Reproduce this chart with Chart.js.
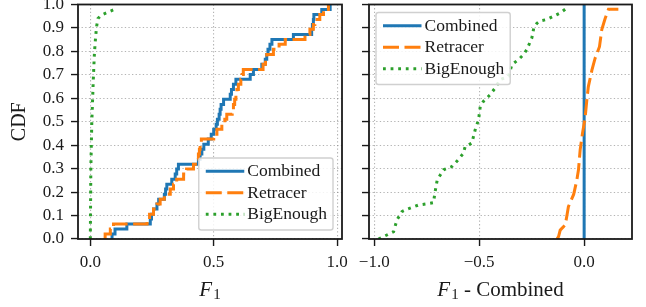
<!DOCTYPE html>
<html>
<head>
<meta charset="utf-8">
<script src="https://cdn.jsdelivr.net/npm/chart.js@4.4.1/dist/chart.umd.min.js"></script>
<style>
html,body{margin:0;padding:0;background:#fff;}
#wrap{position:relative;width:646px;height:307px;overflow:hidden;}
#c1{position:absolute;left:0;top:0;}
#c2{position:absolute;left:350px;top:0;}
</style>
</head>
<body>
<div id="wrap">
<canvas id="c1" width="350" height="307"></canvas>
<canvas id="c2" width="296" height="307"></canvas>
</div>
<script>
// ---------------- DATA ----------------
const seriesLabels = ['Combined', 'Retracer', 'BigEnough'];

// Left panel: F1 values (x) and CDF levels (y)
const combinedF1  = [0.088,0.088,0.100,0.148,0.243,0.248,0.256,0.270,0.277,0.300,0.305,0.310,0.330,0.344,0.350,0.357,0.438,0.445,0.452,0.460,0.478,0.490,0.500,0.510,0.515,0.522,0.526,0.530,0.540,0.567,0.572,0.580,0.590,0.648,0.661,0.695,0.709,0.715,0.720,0.728,0.736,0.823,0.897,0.900,0.904,0.906,0.938,0.972];
const combinedCdf = [0.000,0.021,0.043,0.064,0.085,0.106,0.128,0.149,0.170,0.191,0.213,0.234,0.255,0.277,0.298,0.319,0.340,0.362,0.383,0.404,0.426,0.447,0.468,0.489,0.511,0.532,0.553,0.574,0.596,0.617,0.638,0.660,0.681,0.702,0.723,0.745,0.766,0.787,0.809,0.830,0.851,0.872,0.894,0.915,0.936,0.957,0.979,1.000];

const retracerF1  = [0.060,0.060,0.081,0.094,0.230,0.240,0.256,0.270,0.283,0.300,0.324,0.337,0.350,0.378,0.390,0.418,0.432,0.438,0.442,0.445,0.450,0.500,0.513,0.533,0.545,0.553,0.575,0.580,0.585,0.590,0.594,0.600,0.610,0.615,0.620,0.700,0.710,0.715,0.742,0.765,0.790,0.870,0.890,0.904,0.910,0.930,0.945,0.965];
const retracerCdf = [0.000,0.021,0.043,0.064,0.085,0.106,0.128,0.149,0.170,0.191,0.213,0.234,0.255,0.277,0.298,0.319,0.340,0.362,0.383,0.404,0.426,0.447,0.468,0.489,0.511,0.532,0.553,0.574,0.596,0.617,0.638,0.660,0.681,0.702,0.723,0.745,0.766,0.787,0.809,0.830,0.851,0.872,0.894,0.915,0.936,0.957,0.979,1.000];

const bigEnoughF1  = [0.000,0.001,0.002,0.004,0.006,0.009,0.012,0.016,0.019,0.023,0.026,0.031,0.040,0.051,0.077,0.100];
const bigEnoughCdf = [0.000,0.150,0.300,0.400,0.500,0.590,0.680,0.780,0.830,0.880,0.910,0.940,0.950,0.958,0.970,0.980];

// Right panel: F1 - Combined (x) and CDF levels (y)
const diffCombined    = [0.0, 0.0];
const diffCombinedCdf = [0.0, 1.0];

const diffRetracer    = [-0.130,-0.122,-0.114,-0.090,-0.082,-0.075,-0.050,-0.035,-0.027,-0.019,-0.008,0.005,0.013,0.020,0.037,0.052,0.073,0.084,0.100,0.116,0.163];
const diffRetracerCdf = [0.000,0.010,0.038,0.060,0.100,0.138,0.190,0.250,0.295,0.380,0.450,0.520,0.594,0.650,0.720,0.770,0.820,0.893,0.940,0.980,0.980];

const diffBigEnough    = [-0.980,-0.940,-0.908,-0.892,-0.868,-0.844,-0.789,-0.749,-0.718,-0.710,-0.700,-0.670,-0.630,-0.600,-0.575,-0.567,-0.535,-0.519,-0.503,-0.495,-0.480,-0.448,-0.424,-0.400,-0.360,-0.344,-0.313,-0.289,-0.273,-0.249,-0.240,-0.225,-0.210,-0.178,-0.146,-0.114,-0.090];
const diffBigEnoughCdf = [0.000,0.017,0.031,0.081,0.117,0.127,0.145,0.150,0.155,0.202,0.252,0.295,0.309,0.338,0.366,0.394,0.409,0.466,0.509,0.565,0.587,0.615,0.644,0.680,0.694,0.744,0.765,0.786,0.808,0.858,0.900,0.920,0.930,0.936,0.950,0.964,0.980];

// Ticks
const yTicks      = [0.0,0.1,0.2,0.3,0.4,0.5,0.6,0.7,0.8,0.9,1.0];
const leftXTicks  = [0.0, 0.5, 1.0];
const rightXTicks = [-1.0, -0.5, 0.0];

// Titles
const yTitle = 'CDF';
const leftXTitle  = ['F', '1', ''];
const rightXTitle = ['F', '1', ' - Combined'];

// ---------------- STYLE ----------------
const FONT = "'Liberation Serif', 'Times New Roman', serif";
const BLUE = '#1f77b4', ORANGE = '#ff7f0e', GREEN = '#2ca02c';
const GRID = 'rgba(130,130,130,0.6)';
const INK = '#1a1a1a';

function pts(xs, ys) { return xs.map((x, i) => ({x: x, y: ys[i]})); }
function fmt(v) { return (v < 0 ? '\u2212' : '') + Math.abs(v).toFixed(1); }

function makeDatasets(cx, cy, rx, ry, bx, by, stepped) {
  return [
    {label: seriesLabels[0], data: pts(cx, cy), borderColor: BLUE, borderWidth: 3, stepped: stepped, order: 3, borderCapStyle: 'butt'},
    {label: seriesLabels[1], data: pts(rx, ry), borderColor: ORANGE, borderWidth: 3, borderDash: [16, 5.5], stepped: stepped, order: 2, borderCapStyle: 'butt'},
    {label: seriesLabels[2], data: pts(bx, by), borderColor: GREEN, borderWidth: 3, borderDash: [2.8, 4.8], stepped: false, order: 1, borderCapStyle: 'butt'}
  ];
}

function xScale(min, max, ticks) {
  return {
    type: 'linear', min: min, max: max,
    afterBuildTicks: s => { s.ticks = ticks.map(v => ({value: v})); },
    afterFit: s => { s.height = 68; s.paddingLeft = 0; s.paddingRight = 0; },
    ticks: {callback: v => fmt(v), font: {family: FONT, size: 17}, color: INK, padding: 6, maxRotation: 0, autoSkip: false},
    grid: {color: GRID, lineWidth: 1.1, drawTicks: true, tickLength: 7, tickColor: INK, tickWidth: 1.4, tickBorderDash: []},
    border: {display: false, dash: [1.3, 2.3]}
  };
}
function yScale(width, showLabels) {
  return {
    type: 'linear', min: 0, max: 1,
    afterBuildTicks: s => { s.ticks = yTicks.map(v => ({value: v})); },
    afterFit: s => { s.width = width; s.paddingTop = 0; s.paddingBottom = 0; },
    ticks: {display: showLabels, callback: v => fmt(v), font: {family: FONT, size: 17}, color: INK, padding: 7},
    grid: {color: GRID, lineWidth: 1.1, drawTicks: true, tickLength: 7, tickColor: INK, tickWidth: 1.4, tickBorderDash: []},
    border: {display: false, dash: [1.3, 2.3]},
    title: {display: showLabels, text: yTitle, font: {family: FONT, size: 20}, color: INK, padding: {top: 8, bottom: 0}}
  };
}

const decor = {
  id: 'decor',
  afterDatasetsDraw(chart, args, o) {
    const ctx = chart.ctx, a = chart.chartArea;
    ctx.save();
    // frame
    ctx.setLineDash([]);
    ctx.strokeStyle = INK; ctx.lineWidth = 1.8;
    ctx.strokeRect(a.left, a.top, a.right - a.left, a.bottom - a.top);
    // legend
    const ds = chart.data.datasets;
    ctx.font = o.legendSize + 'px ' + FONT;
    const tw = Math.max.apply(null, ds.map(d => ctx.measureText(d.label).width));
    const w = 48.5 + tw + 6, rowH = 21.5, h = 72;
    const x0 = o.anchor === 'br' ? a.right - o.dx - w : a.left + o.dx;
    const y0 = o.anchor === 'br' ? a.bottom - o.dy - h : a.top + o.dy;
    ctx.beginPath();
    if (ctx.roundRect) ctx.roundRect(x0, y0, w, h, 2.5); else ctx.rect(x0, y0, w, h);
    ctx.fillStyle = 'rgba(255,255,255,0.85)'; ctx.fill();
    ctx.strokeStyle = '#d0d0d0'; ctx.lineWidth = 1.4; ctx.stroke();
    ds.forEach((d, i) => {
      const cy = y0 + 2.5 + rowH * (i + 0.5);
      ctx.beginPath();
      ctx.setLineDash(d.borderDash || []);
      ctx.lineCap = 'butt';
      ctx.strokeStyle = d.borderColor; ctx.lineWidth = d.borderWidth;
      ctx.moveTo(x0 + 7, cy); ctx.lineTo(x0 + 45.5, cy); ctx.stroke();
      ctx.setLineDash([]);
      ctx.fillStyle = INK; ctx.textBaseline = 'middle'; ctx.textAlign = 'left';
      ctx.fillText(d.label, x0 + 48.5, cy + 0.5);
    });
    ctx.restore();
  },
  afterDraw(chart, args, o) {
    const ctx = chart.ctx, a = chart.chartArea;
    const t = o.xTitle;
    ctx.save();
    ctx.fillStyle = INK; ctx.textBaseline = 'alphabetic'; ctx.textAlign = 'left';
    const fMain = 'italic 21px ' + FONT, fSub = '15px ' + FONT, fRest = '21px ' + FONT;
    ctx.font = fMain; const w1 = ctx.measureText(t[0]).width;
    ctx.font = fSub; const w2 = ctx.measureText(t[1]).width;
    ctx.font = fRest; const w3 = ctx.measureText(t[2]).width;
    const total = w1 + 1 + w2 + w3;
    let x = (a.left + a.right) / 2 - total / 2;
    const base = 295.5;
    ctx.font = fMain; ctx.fillText(t[0], x, base); x += w1 + 1;
    ctx.font = fSub; ctx.fillText(t[1], x, base + 3); x += w2;
    ctx.font = fRest; ctx.fillText(t[2], x, base);
    ctx.restore();
  }
};

const common = {
  responsive: false, animation: false, events: [],
  elements: {point: {radius: 0}, line: {tension: 0}},
};

new Chart(document.getElementById('c1'), {
  type: 'scatter',
  data: {datasets: makeDatasets(combinedF1, combinedCdf, retracerF1, retracerCdf, bigEnoughF1, bigEnoughCdf, 'before')
    .map(d => Object.assign(d, {showLine: true}))},
  options: Object.assign({}, common, {
    layout: {padding: {left: 0, top: 4.5, right: 8, bottom: 0}},
    scales: {x: xScale(-0.05, 1.02, leftXTicks), y: yScale(78, true)},
    plugins: {legend: {display: false}, tooltip: {enabled: false},
      decor: {anchor: 'br', dx: 9, dy: 9, legendSize: 17.5, xTitle: leftXTitle}}
  }),
  plugins: [decor]
});

new Chart(document.getElementById('c2'), {
  type: 'scatter',
  data: {datasets: makeDatasets(diffCombined, diffCombinedCdf, diffRetracer, diffRetracerCdf, diffBigEnough, diffBigEnoughCdf, false)
    .map(d => Object.assign(d, {showLine: true}))},
  options: Object.assign({}, common, {
    layout: {padding: {left: 0, top: 4.5, right: 14, bottom: 0}},
    scales: {x: xScale(-1.025, 0.228, rightXTicks), y: yScale(19, false)},
    plugins: {legend: {display: false}, tooltip: {enabled: false},
      decor: {anchor: 'tl', dx: 7, dy: 8, legendSize: 17.5, xTitle: rightXTitle}}
  }),
  plugins: [decor]
});
</script>
</body>
</html>
